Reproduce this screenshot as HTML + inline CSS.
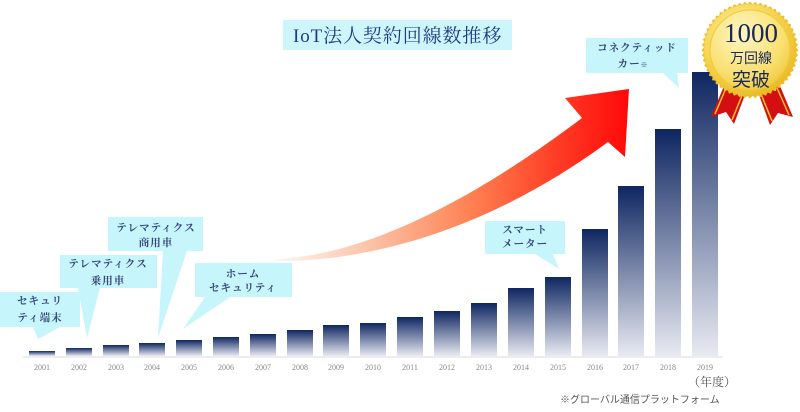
<!DOCTYPE html>
<html><head><meta charset="utf-8"><style>
html,body{margin:0;padding:0;background:#fff;}
svg{display:block;}
.c{font-family:"Liberation Serif","Noto Serif CJK JP","Noto Serif CJK SC",serif;font-size:10.5px;fill:#34467a;font-weight:700;letter-spacing:1px;text-anchor:middle;}
.y{font-family:"Liberation Serif",serif;font-size:8px;fill:#888;text-anchor:middle;}
</style></head><body>
<svg width="800" height="412" viewBox="0 0 800 412" xmlns="http://www.w3.org/2000/svg">
<defs>
<linearGradient id="bg" x1="0" y1="0" x2="0" y2="1">
<stop offset="0" stop-color="#0e2661"/>
<stop offset="1" stop-color="#e8eaf2"/>
</linearGradient>
<linearGradient id="ar" gradientUnits="userSpaceOnUse" x1="280" y1="0" x2="630" y2="0">
<stop offset="0" stop-color="#fff4ee"/>
<stop offset="0.25" stop-color="#fcc4aa"/>
<stop offset="0.55" stop-color="#ff8050"/>
<stop offset="0.8" stop-color="#ff3a24"/>
<stop offset="1" stop-color="#ff0808"/>
</linearGradient>
<radialGradient id="gold" cx="0.4" cy="0.35" r="0.7">
<stop offset="0" stop-color="#fff3b0"/>
<stop offset="0.6" stop-color="#f6d552"/>
<stop offset="1" stop-color="#e8b820"/>
</radialGradient>
<radialGradient id="gold2" cx="0.4" cy="0.3" r="0.75">
<stop offset="0" stop-color="#fff6c4"/>
<stop offset="0.7" stop-color="#f9df6e"/>
<stop offset="1" stop-color="#f0c840"/>
</radialGradient>
</defs>

<!-- title -->
<rect x="283" y="20" width="229" height="30" fill="#cdf6fc"/>
<text x="293" y="42" font-family="'Liberation Serif','Noto Serif CJK JP',serif" font-size="19" letter-spacing="0.9" fill="#1f3a85">IoT法人契約回線数推移</text>

<!-- arrow -->
<path d="M276,259 C370,255 480,195 582,118 L565,98 L629,89 L625,157 L608,142 C500,222 380,262 276,261 Z" style="fill:url(#ar)"/>

<!-- baseline -->
<line x1="23" y1="357" x2="723" y2="357" stroke="#e2e2e8" stroke-width="1.2"/>

<!-- bars -->
<g fill="url(#bg)">
<rect x="29" y="351" width="26" height="5"/>
<rect x="66" y="348" width="26" height="8"/>
<rect x="103" y="345" width="26" height="11"/>
<rect x="139" y="343" width="26" height="13"/>
<rect x="176" y="340" width="26" height="16"/>
<rect x="213" y="337" width="26" height="19"/>
<rect x="250" y="334" width="26" height="22"/>
<rect x="287" y="330" width="26" height="26"/>
<rect x="323" y="325" width="26" height="31"/>
<rect x="360" y="323" width="26" height="33"/>
<rect x="397" y="317" width="26" height="39"/>
<rect x="434" y="311" width="26" height="45"/>
<rect x="471" y="303" width="26" height="53"/>
<rect x="508" y="288" width="26" height="68"/>
<rect x="545" y="277" width="26" height="79"/>
<rect x="582" y="229" width="26" height="127"/>
<rect x="618" y="186" width="26" height="170"/>
<rect x="655" y="129" width="26" height="227"/>
<rect x="692" y="72" width="26" height="284"/>
</g>

<!-- years -->
<g class="y">
<text x="42" y="370">2001</text><text x="79" y="370">2002</text><text x="116" y="370">2003</text>
<text x="152" y="370">2004</text><text x="189" y="370">2005</text><text x="226" y="370">2006</text>
<text x="263" y="370">2007</text><text x="300" y="370">2008</text><text x="336" y="370">2009</text>
<text x="373" y="370">2010</text><text x="410" y="370">2011</text><text x="447" y="370">2012</text>
<text x="484" y="370">2013</text><text x="521" y="370">2014</text><text x="558" y="370">2015</text>
<text x="595" y="370">2016</text><text x="631" y="370">2017</text><text x="668" y="370">2018</text>
<text x="705" y="370">2019</text>
</g>

<!-- footnotes -->
<text x="688" y="386" font-family="'Liberation Serif','Noto Serif CJK JP',serif" font-size="12" fill="#555">（年度）</text>
<text x="560" y="403" font-family="'Liberation Sans','Noto Sans CJK JP',sans-serif" font-size="10" fill="#555">※グローバル通信プラットフォーム</text>

<!-- callouts -->
<g fill="#c6f5fb">
<path d="M0,292 H80 V327 H60 L38,339 L33,327 H0 Z"/>
<path d="M60,255 H157 V288 H100 L87,338 L78,288 H60 Z"/>
<path d="M108,217 H203 V251 H187 L158,338 L163,251 H108 Z"/>
<path d="M195,263 H292 V297 H230 L183,329 L205,297 H195 Z"/>
<path d="M485,221 H565 V254 H553 L559,269 L535,254 H485 Z"/>
<path d="M586,38 H688 V73 H677 L679,88 L663,73 H586 Z"/>
</g>
<g class="c">
<text x="40" y="304">セキュリ</text><text x="40" y="321">ティ端末</text>
<text x="108" y="267">テレマティクス</text><text x="108" y="284">乗用車</text>
<text x="156" y="231">テレマティクス</text><text x="156" y="246">商用車</text>
<text x="243" y="277">ホーム</text><text x="243" y="291">セキュリティ</text>
<text x="525" y="233">スマート</text><text x="525" y="247">メーター</text>
<text x="637" y="51">コネクティッド</text><text x="633" y="67">カー<tspan font-size="7">※</tspan></text>
</g>

<!-- badge ribbons -->
<g>
<path d="M724,86 L746,92 L734,124 L726,112 L711,117 Z" fill="#d40f12"/>
<path d="M726,88 L715,114" stroke="#f5c630" stroke-width="1.5"/>
<path d="M743,93 L732,120" stroke="#f5c630" stroke-width="1.5"/>
<path d="M758,92 L780,86 L793,117 L778,113 L770,125 Z" fill="#d40f12"/>
<path d="M761,94 L772,121" stroke="#f5c630" stroke-width="1.5"/>
<path d="M777,88 L789,115" stroke="#f5c630" stroke-width="1.5"/>
</g>
<!-- badge -->
<polygon id="star" fill="#eebf28" points=""/>
<circle cx="750" cy="50" r="46" fill="url(#gold)"/>
<circle cx="750" cy="50" r="40" fill="url(#gold2)" stroke="#f0c83a" stroke-width="1"/>
<text x="751" y="42" text-anchor="middle" font-family="'Liberation Serif',serif" font-size="27" fill="#1a2858">1000</text>
<text x="751" y="63" text-anchor="middle" font-family="'Liberation Sans','Noto Sans CJK JP',sans-serif" font-size="14" fill="#1a2858">万回線</text>
<text x="751" y="86" text-anchor="middle" font-family="'Liberation Sans','Noto Sans CJK JP',sans-serif" font-size="19" fill="#1a2858">突破</text>
</svg>
<script>
(function(){var p=[],n=56,cx=750,cy=50;for(var i=0;i<n*2;i++){var r=i%2?46:48.5,a=Math.PI*i/n;p.push((cx+r*Math.cos(a)).toFixed(1)+","+(cy+r*Math.sin(a)).toFixed(1));}document.getElementById("star").setAttribute("points",p.join(" "));})();
</script>
</body></html>
